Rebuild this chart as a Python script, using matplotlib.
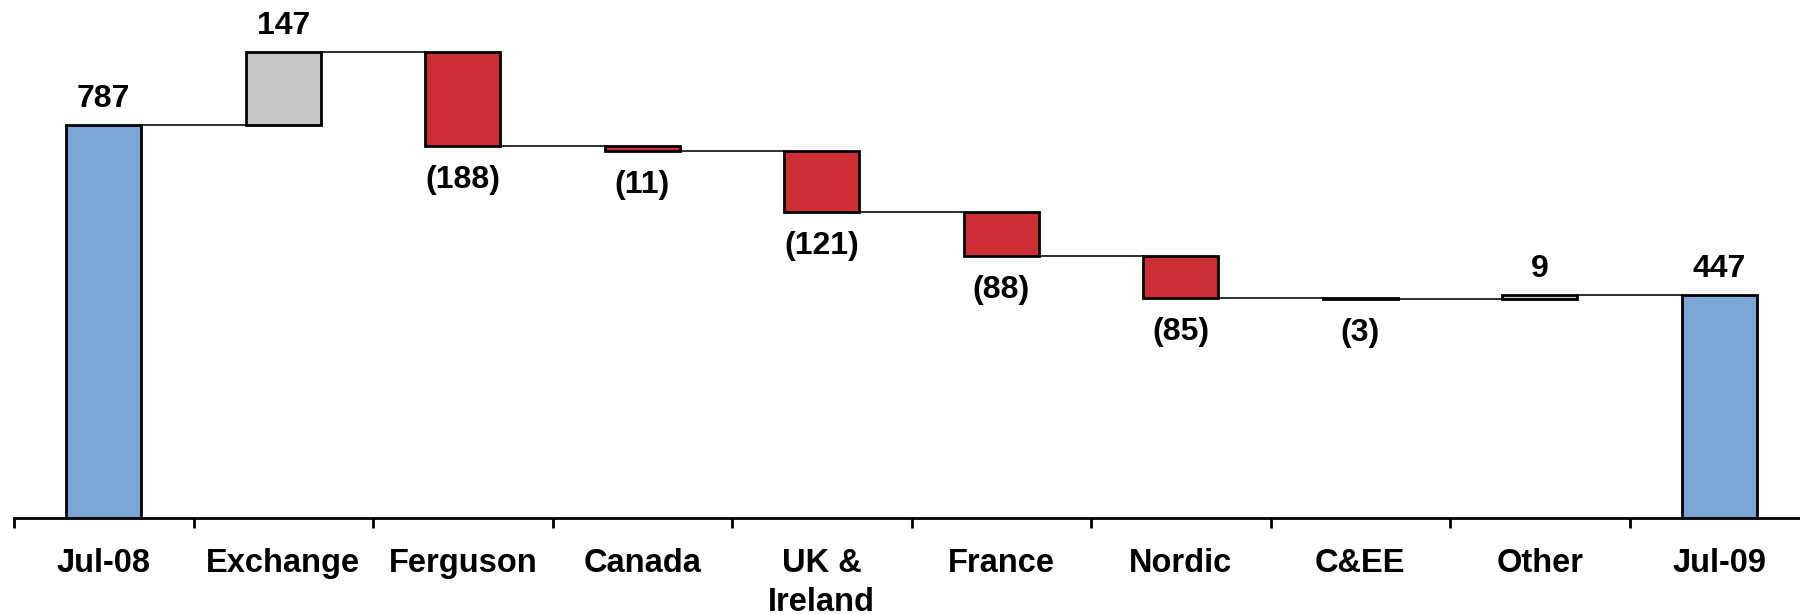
import matplotlib
matplotlib.use("Agg")
import matplotlib.pyplot as plt
import numpy as np

# Operating profit bridge data
categories = ["Jul-08", "Exchange", "Ferguson", "Canada", "UK &\nIreland",
              "France", "Nordic", "C&EE", "Other", "Jul-09"]
start_value = 787
changes = [147, -188, -11, -121, -88, -85, -3, 9]
end_value = 447

BLUE = "#7da6d8"
RED = "#cc2e34"
GREY = "#c6c6c6"

plt.rcParams["font.family"] = ["Liberation Sans", "DejaVu Sans"]
plt.rcParams["font.weight"] = "bold"

fig = plt.figure(figsize=(18.0, 6.14), dpi=100)
ax = fig.add_axes([14 / 1800, 96 / 614, 1795 / 1800, 518 / 614])

n = len(categories)
x = np.arange(n)
width = 0.42

# Running totals for floating bars
bottoms = [0]
heights = [start_value]
tops = [start_value]
level = start_value
for c in changes:
    new_level = level + c
    bottoms.append(min(level, new_level))
    heights.append(abs(c))
    tops.append(new_level)
    level = new_level
bottoms.append(0)
heights.append(end_value)
tops.append(end_value)

colors = [BLUE] + [GREY if c > 0 else RED for c in changes] + [BLUE]

ax.bar(x, heights, bottom=bottoms, width=width, color=colors,
       edgecolor="black", linewidth=2.0, zorder=3)

# Connector lines between consecutive bars
for i in range(n - 1):
    ax.plot([x[i] + width / 2, x[i + 1] - width / 2], [tops[i], tops[i]],
            color="black", linewidth=1.15, zorder=2)

# Value labels
values = [start_value] + changes + [end_value]
for i, v in enumerate(values):
    if v >= 0:
        ax.annotate(f"{v}", (x[i], bottoms[i] + heights[i]),
                    xytext=(0, 19), textcoords="offset points",
                    ha="center", va="center", fontsize=23, fontweight="bold")
    else:
        ax.annotate(f"({abs(v)})", (x[i], bottoms[i]),
                    xytext=(0, -24.5), textcoords="offset points",
                    ha="center", va="center", fontsize=23, fontweight="bold")

ax.set_xlim(-0.5, n - 0.5)
ax.set_ylim(0, 1038)

for side in ["left", "right", "top"]:
    ax.spines[side].set_visible(False)
ax.spines["bottom"].set_linewidth(2.0)
ax.yaxis.set_visible(False)

ax.set_xticks(x)
ax.set_xticklabels(categories, fontsize=23.5, fontweight="bold", linespacing=1.32)
ax.tick_params(axis="x", which="major", length=0, pad=21.5)
ax.set_xticks(np.arange(-0.5, n, 1.0), minor=True)
ax.tick_params(axis="x", which="minor", length=7, width=2.0, direction="out")

fig.savefig("out.png", dpi=100)
